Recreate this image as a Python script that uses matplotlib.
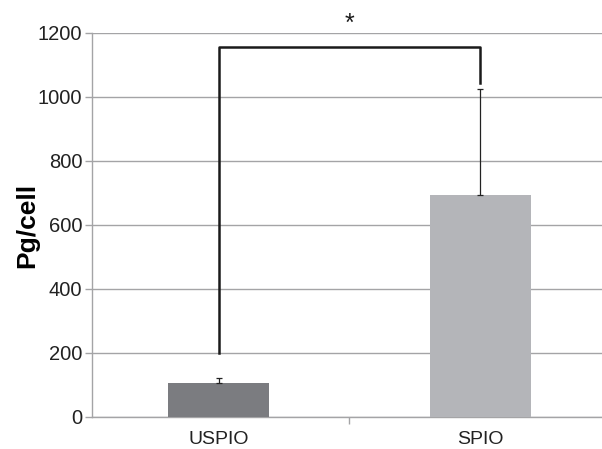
import matplotlib
matplotlib.use('Agg')
import matplotlib.pyplot as plt

plt.rcParams['font.family'] = ['Liberation Sans', 'DejaVu Sans']

# data
groups = ['USPIO', 'SPIO']
means = [106, 694]
errors = [16, 330]
bar_colors = ['#7b7c80', '#b4b5b9']
bracket_bottom = [200, 1044]
bracket_top = 1155
star_y = 1228

fig = plt.figure(figsize=(6.02, 4.49), dpi=100)
ax = fig.add_axes([92 / 602, 32 / 449, 1 - 92 / 602, 384 / 449])

x = list(range(len(groups)))
ax.bar(x, means, width=0.385, color=bar_colors, zorder=3)
ax.errorbar(x, means, yerr=[[0] * len(errors), errors], fmt='none',
            ecolor='#222222', elinewidth=0.9, capsize=2, capthick=0.9, zorder=4)

# significance bracket
ax.plot([x[0], x[0], x[1], x[1]],
        [bracket_bottom[0], bracket_top, bracket_top, bracket_bottom[1]],
        color='#1a1a1a', lw=1.8, zorder=5, clip_on=False)
ax.text(0.5, star_y, '*', ha='center', va='center', fontsize=18,
        color='#1a1a1a', clip_on=False)

ax.set_ylim(0, 1200)
ax.set_xlim(-0.483, 1.464)
ax.set_yticks(range(0, 1201, 200))
ax.grid(axis='y', color='#a4a4a6', lw=1.0, zorder=0)

ax.set_xticks(x)
ax.set_xticklabels(groups, fontsize=14, color='#222222')
ax.set_xticks([0.5], minor=True)
ax.tick_params(axis='x', which='major', length=0, pad=10)
ax.tick_params(axis='x', which='minor', length=5, color='#a4a4a6', width=1)
ax.tick_params(axis='y', length=5, color='#a4a4a6', width=1, labelsize=14.5,
               labelcolor='#222222', pad=2)

for side in ['top', 'right']:
    ax.spines[side].set_visible(False)
for side in ['left', 'bottom']:
    ax.spines[side].set_color('#a4a4a6')
    ax.spines[side].set_linewidth(1.0)

ax.set_ylabel('Pg/cell', fontsize=19, fontweight='bold', labelpad=-1)

fig.savefig('out.png', dpi=100)
